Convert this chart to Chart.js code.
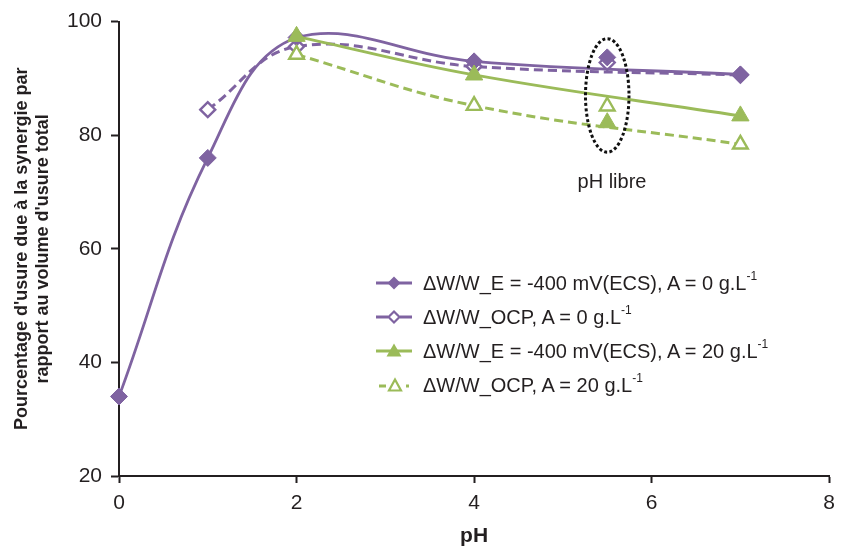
<!DOCTYPE html>
<html><head><meta charset="utf-8">
<script src="https://cdn.jsdelivr.net/npm/chart.js@4.4.1/dist/chart.umd.min.js"></script>
<style>
body{margin:0;background:#fff;font-family:"Liberation Sans",Arial,sans-serif;}
#wrap{position:relative;width:843px;height:552px;overflow:hidden;}
#c{position:absolute;left:0;top:0;}
.lg{position:absolute;left:375px;height:24px;display:flex;align-items:center;font-size:20px;color:#231f20;white-space:nowrap;}
.lg svg{width:38px;height:20px;margin-right:10px;flex:none;}
.lg sup{font-size:12px;position:relative;top:-2px;}
#libre{position:absolute;left:562px;width:100px;top:170px;text-align:center;font-size:20px;line-height:22px;color:#231f20;}
</style></head>
<body>
<div id="wrap">
<canvas id="c" width="843" height="552"></canvas>
<div class="lg" style="top:271px"><svg viewBox="0 0 38 20"><line x1="1" y1="10" x2="37" y2="10" stroke="#7f63a1" stroke-width="3"/><polygon points="19,3.5 25.5,10 19,16.5 12.5,10" fill="#7f63a1"/></svg><span>&#916;W/W_E = -400 mV(ECS), A = 0 g.L<sup>-1</sup></span></div>
<div class="lg" style="top:305px"><svg viewBox="0 0 38 20"><line x1="1" y1="10" x2="13" y2="10" stroke="#7f63a1" stroke-width="3"/><line x1="25" y1="10" x2="37" y2="10" stroke="#7f63a1" stroke-width="3"/><polygon points="19,4.5 24.5,10 19,15.5 13.5,10" fill="#fff" stroke="#7f63a1" stroke-width="2.2"/></svg><span>&#916;W/W_OCP, A = 0 g.L<sup>-1</sup></span></div>
<div class="lg" style="top:339px"><svg viewBox="0 0 38 20"><line x1="1" y1="10" x2="37" y2="10" stroke="#9bbb59" stroke-width="3"/><polygon points="19,2.5 26.5,15.5 11.5,15.5" fill="#9bbb59"/></svg><span>&#916;W/W_E = -400 mV(ECS), A = 20 g.L<sup>-1</sup></span></div>
<div class="lg" style="top:373px"><svg viewBox="0 0 38 20"><line x1="4" y1="11" x2="11" y2="11" stroke="#9bbb59" stroke-width="3"/><line x1="31" y1="11" x2="34" y2="11" stroke="#9bbb59" stroke-width="3"/><polygon points="20,4.5 26,15.5 14,15.5" fill="#fff" stroke="#9bbb59" stroke-width="2.2"/></svg><span>&#916;W/W_OCP, A = 20 g.L<sup>-1</sup></span></div>
<div id="libre">pH libre</div>
</div>
<script>
// ---- data ----
const pH_E_A0 = [0, 1, 2, 4, 7];
const syn_E_A0 = [34, 76, 97.2, 93, 90.7];
const pH_OCP_A0 = [1, 2, 4, 7];
const syn_OCP_A0 = [84.5, 95.6, 92.1, 90.6];
const pH_A20 = [2, 4, 7];
const syn_E_A20 = [97.4, 90.6, 83.4];
const syn_OCP_A20 = [94.2, 85.2, 78.4];
const pH_libre = [5.5];
const libre_E_A0 = [93.7];
const libre_OCP_A0 = [92.8];
const libre_E_A20 = [82.2];
const libre_OCP_A20 = [85.1];
const xTicks = [0, 2, 4, 6, 8];
const yTicks = [20, 40, 60, 80, 100];

const PURPLE = '#7f63a1', GREEN = '#9bbb59';
const pts = (xs, ys) => xs.map((x, i) => ({x, y: ys[i]}));

const ellipsePlugin = {
  id: 'phLibreEllipse',
  afterDatasetsDraw(chart) {
    const {ctx, scales: {x, y}} = chart;
    const cx = x.getPixelForValue(5.5), cy = y.getPixelForValue(87);
    const rx = x.getPixelForValue(5.5 + 0.245) - cx;
    const ry = y.getPixelForValue(77) - cy;
    ctx.save();
    ctx.beginPath();
    ctx.ellipse(cx, cy, rx, ry, 0, 0, Math.PI * 2);
    ctx.setLineDash([3, 2.4]);
    ctx.lineWidth = 3;
    ctx.strokeStyle = '#111';
    ctx.stroke();
    ctx.restore();
  }
};

const lineDs = (data, color, dashed, filled, style, radius, order) => ({
  data, borderColor: color, borderWidth: dashed ? 3 : 2.8, borderDash: dashed ? [9, 5] : [],
  tension: 0.4, pointStyle: style, pointRadius: radius, pointBorderWidth: filled ? 1 : 2.4,
  pointBackgroundColor: filled ? color : '#fff', pointBorderColor: color, clip: false, order,
  showLine: true, fill: false
});
const ptDs = (data, color, filled, style, radius, order) => ({
  data, borderColor: color, showLine: false, pointStyle: style, pointRadius: radius,
  pointBorderWidth: filled ? 1 : 2.4, pointBackgroundColor: filled ? color : '#fff',
  pointBorderColor: color, clip: false, order
});

new Chart(document.getElementById('c'), {
  type: 'scatter',
  data: {
    datasets: [
      lineDs(pts(pH_A20, syn_E_A20), GREEN, false, true, 'triangle', 10, 0),
      lineDs(pts(pH_A20, syn_OCP_A20), GREEN, true, false, 'triangle', 8.5, 1),
      lineDs(pts(pH_E_A0, syn_E_A0), PURPLE, false, true, 'rectRot', 8.5, 2),
      lineDs(pts(pH_OCP_A0, syn_OCP_A0), PURPLE, true, false, 'rectRot', 7.5, 3),
      ptDs(pts(pH_libre, libre_E_A0), PURPLE, true, 'rectRot', 8.5, 2),
      ptDs(pts(pH_libre, libre_OCP_A0), PURPLE, false, 'rectRot', 7.5, 3),
      ptDs(pts(pH_libre, libre_E_A20), GREEN, true, 'triangle', 10, 0),
      ptDs(pts(pH_libre, libre_OCP_A20), GREEN, false, 'triangle', 8.5, 1)
    ]
  },
  options: {
    responsive: false, animation: false, devicePixelRatio: 1,
    layout: {padding: {top: 20, right: 10, left: 0, bottom: 0}},
    plugins: {legend: {display: false}, tooltip: {enabled: false}},
    scales: {
      x: {
        type: 'linear', min: 0, max: 8,
        afterBuildTicks: s => { s.ticks = xTicks.map(v => ({value: v})); },
        afterFit: s => { s.height = 76; },
        ticks: {color: '#231f20', font: {family: '"Liberation Sans", Arial', size: 21}, padding: 8},
        grid: {drawOnChartArea: false, drawTicks: true, tickLength: 7, tickColor: '#231f20', tickWidth: 2},
        border: {display: true, color: '#231f20', width: 2},
        title: {display: true, text: 'pH', color: '#231f20', font: {family: '"Liberation Sans", Arial', size: 21, weight: 'bold'}, padding: {top: 0, bottom: 3}}
      },
      y: {
        type: 'linear', min: 20, max: 100,
        afterBuildTicks: s => { s.ticks = yTicks.map(v => ({value: v})); },
        afterFit: s => { s.width = 119; },
        ticks: {color: '#231f20', font: {family: '"Liberation Sans", Arial', size: 21}, padding: 9},
        grid: {drawOnChartArea: false, drawTicks: true, tickLength: 8, tickColor: '#231f20', tickWidth: 2},
        border: {display: true, color: '#231f20', width: 2},
        title: {display: true, text: ["Pourcentage d'usure due à la synergie par", "rapport au volume d'usure total"], color: '#231f20',
          font: {family: '"Liberation Sans", Arial', size: 18, weight: 'bold', lineHeight: 1.15}, padding: {top: 12, bottom: 0}}
      }
    }
  },
  plugins: [ellipsePlugin]
});
</script>
</body></html>
